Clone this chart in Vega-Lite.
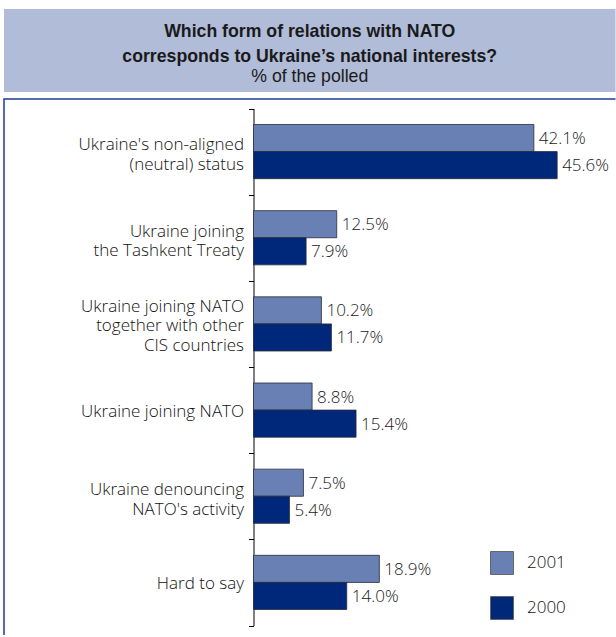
{
  "$schema": "https://vega.github.io/schema/vega-lite/v6.json",
  "padding": {"left": 3, "top": 9, "right": 0, "bottom": 0},
  "spacing": 7,
  "bounds": "flush",
  "background": "white",
  "config": {"font": "Open Sans", "view": {"stroke": null}},
  "vconcat": [
    {
      "width": 611.5,
      "height": 83,
      "view": {"fill": "#b0bcd8", "stroke": null},
      "title": {
        "text": ["Which form of relations with NATO", "corresponds to Ukraine’s national interests?"],
        "subtitle": "% of the polled",
        "anchor": "middle",
        "frame": "group",
        "orient": "top",
        "offset": -77,
        "font": "Liberation Sans",
        "fontSize": 17.7,
        "fontWeight": "bold",
        "color": "#1a1a1a",
        "lineHeight": 25,
        "subtitleFont": "Liberation Sans",
        "subtitleFontSize": 17.7,
        "subtitleFontWeight": "normal",
        "subtitleColor": "#1a1a1a",
        "subtitlePadding": 3,
        "subtitleLineHeight": 20
      },
      "data": {"values": [{}]},
      "mark": {"type": "text", "text": ""}
    },
    {
      "width": 611.5,
      "height": 536,
      "view": {"stroke": "#1f3d8f", "strokeWidth": 1.5, "strokeDash": [611.5, 1147.5, 537], "fill": "white"},
      "data": {
        "values": [
          {"cat": "Ukraine's non-aligned|(neutral) status", "year": "2001", "value": 42.1},
          {"cat": "Ukraine's non-aligned|(neutral) status", "year": "2000", "value": 45.6},
          {"cat": "Ukraine joining|the Tashkent Treaty", "year": "2001", "value": 12.5},
          {"cat": "Ukraine joining|the Tashkent Treaty", "year": "2000", "value": 7.9},
          {"cat": "Ukraine joining NATO|together with other|CIS countries", "year": "2001", "value": 10.2},
          {"cat": "Ukraine joining NATO|together with other|CIS countries", "year": "2000", "value": 11.7},
          {"cat": "Ukraine joining NATO", "year": "2001", "value": 8.8},
          {"cat": "Ukraine joining NATO", "year": "2000", "value": 15.4},
          {"cat": "Ukraine denouncing|NATO's activity", "year": "2001", "value": 7.5},
          {"cat": "Ukraine denouncing|NATO's activity", "year": "2000", "value": 5.4},
          {"cat": "Hard to say", "year": "2001", "value": 18.9},
          {"cat": "Hard to say", "year": "2000", "value": 14.0}
        ]
      },
      "encoding": {
        "y": {
          "field": "cat",
          "type": "nominal",
          "sort": null,
          "scale": {
            "domain": [
              "Ukraine's non-aligned|(neutral) status",
              "Ukraine joining|the Tashkent Treaty",
              "Ukraine joining NATO|together with other|CIS countries",
              "Ukraine joining NATO",
              "Ukraine denouncing|NATO's activity",
              "Hard to say"
            ],
            "range": [9.5, 526.5],
            "paddingInner": 0,
            "paddingOuter": 0
          },
          "axis": {
            "orient": "left",
            "offset": -249.5,
            "title": null,
            "grid": false,
            "domain": true,
            "domainColor": "#000000",
            "domainWidth": 1,
            "ticks": true,
            "tickBand": "extent",
            "tickSize": 5,
            "tickColor": "#000000",
            "tickWidth": 1,
            "labelExpr": "datum.value ? split(datum.value, '|') : ''",
            "labelFont": "Open Sans",
            "labelFontSize": 17,
            "labelFontWeight": 300,
            "labelColor": "#111111",
            "labelPadding": 5,
            "labelLimit": 400,
            "labelLineHeight": 19.5,
            "labelOffset": {
              "condition": [
                {"test": "datum.value && length(split(datum.value, '|')) == 3", "value": -17.5},
                {"test": "datum.value && length(split(datum.value, '|')) == 2", "value": -6.75}
              ],
              "value": 1.5
            },
            "labelAlign": "right",
            "labelBaseline": "middle"
          }
        },
        "yOffset": {
          "field": "year",
          "type": "nominal",
          "scale": {"domain": ["2001", "2000"], "paddingInner": 0, "paddingOuter": 0.59}
        },
        "x": {
          "field": "value",
          "type": "quantitative",
          "scale": {"domain": [0, 54], "range": [249.5, 609.1]},
          "axis": null
        }
      },
      "layer": [
        {
          "mark": {"type": "bar", "stroke": "#2b2b3b", "strokeWidth": 0.8},
          "encoding": {
            "color": {
              "field": "year",
              "type": "nominal",
              "scale": {"domain": ["2001", "2000"], "range": ["#6880b4", "#00287a"]},
              "legend": {
                "orient": "none",
                "legendX": 486,
                "legendY": 542,
                "title": null,
                "padding": 0,
                "symbolType": "square",
                "symbolSize": 529,
                "symbolStrokeColor": "#666666",
                "symbolStrokeWidth": 1,
                "symbolOpacity": 1,
                "labelFont": "Open Sans",
                "labelFontSize": 17,
                "labelFontWeight": 300,
                "labelColor": "#111111",
                "labelOffset": 13,
                "rowPadding": 17
              }
            }
          }
        },
        {
          "transform": [{"calculate": "format(datum.value, '.1f') + '%'", "as": "label"}],
          "mark": {"type": "text", "align": "left", "baseline": "middle", "dx": 5, "dy": 1, "font": "Open Sans", "fontSize": 17, "fontWeight": 300, "color": "#1a1a1a"},
          "encoding": {"text": {"field": "label", "type": "nominal"}}
        }
      ]
    }
  ]
}
